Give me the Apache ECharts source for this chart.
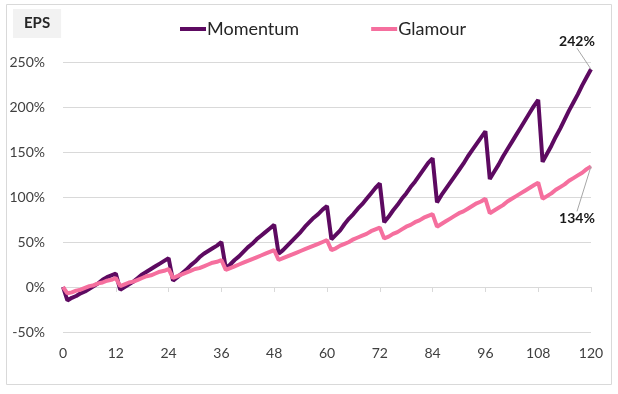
<!DOCTYPE html>
<html><head><meta charset="utf-8">
<script src="https://cdn.jsdelivr.net/npm/echarts@6/dist/echarts.min.js"></script>
<style>html,body{margin:0;padding:0;background:#fff}#c{width:618px;height:394px}</style>
</head><body><div id="c"></div>
<script>
const months = Array.from({length:121},(_,i)=>i);
const xTicks = [0,12,24,36,48,60,72,84,96,108,120];
const yTicks = [-50,0,50,100,150,200,250];
const momentum = [
 0,-15,-12,-10,-7,-5,-2,1,4,8,11,13,15,
 -3,0,3,6,10,14,17,20,23,26,29,32,
 7,11,15,19,24,28,33,37,40,43,46,50,
 21,25,30,34,39,44,48,53,57,61,65,69,
 37,41,46,51,56,61,67,72,77,81,86,90,
 53,58,63,70,76,81,87,92,98,104,110,115,
 72,78,85,91,98,104,111,117,124,131,138,143,
 94,102,109,116,123,130,137,145,152,159,166,173,
 120,128,136,145,153,161,169,177,185,193,201,208,
 139,148,157,167,176,186,196,205,214,224,233,242
];
const glamour = [
 0,-7,-6,-4,-3,-1,1,2,4,5,7,8,10,
 1,3,5,6,8,10,12,13,15,17,18,20,
 10,12,14,16,18,20,21,23,25,27,28,30,
 19,21,23,25,27,29,31,33,35,37,39,41,
 30,32,34,36,38,40,42,44,46,48,50,52,
 41,43,46,48,50,53,55,57,59,62,64,66,
 54,56,59,61,64,67,69,72,74,77,79,81,
 67,70,73,76,79,82,84,87,90,93,95,98,
 82,85,88,91,95,98,101,104,107,110,113,116,
 98,101,104,108,111,114,118,121,124,127,131,134
];
const seriesNames = ['Momentum','Glamour'];
const colors = ['#5d0a61','#f56f9e'];

function toData(arr){
  return arr.map((v,i)=>{
    if(i===arr.length-1){
      return {value:[months[i],v],label:{show:true}};
    }
    return [months[i],v];
  });
}
const font = 'Lato, "Noto Sans", sans-serif';
const chart = echarts.init(document.getElementById('c'),null,{renderer:'canvas'});
chart.setOption({
  animation:false,
  textStyle:{fontFamily:font},
  title:{text:'EPS',left:13,top:9,backgroundColor:'#f2f2f2',padding:[7,11,7,11],
    textStyle:{fontFamily:font,fontSize:15,fontWeight:'bold',color:'#262626'}},
  legend:{top:15,left:175,itemGap:72,itemWidth:26,itemHeight:4,icon:'rect',
    textStyle:{fontFamily:font,fontSize:18,color:'#262626',padding:[0,0,0,-4]},
    data:seriesNames},
  graphic:[{type:'rect',shape:{x:6.5,y:4.5,width:605,height:380},
    style:{fill:'none',stroke:'#d9d9d9',lineWidth:1},silent:true}],
  grid:{left:63,right:27,top:62,bottom:62},
  xAxis:[{
    type:'value',min:0,max:120,interval:12,
    axisLine:{show:false,onZero:false},axisTick:{show:false},splitLine:{show:false},
    axisLabel:{fontSize:14,color:'#404040',margin:14,
      customValues:xTicks}
  },{
    type:'value',min:0,max:120,interval:12,position:'bottom',
    axisLine:{show:true,onZero:true,lineStyle:{color:'#d9d9d9'}},
    axisTick:{show:true,length:5,lineStyle:{color:'#d9d9d9'}},
    axisLabel:{show:false},splitLine:{show:false}
  }],
  yAxis:{
    type:'value',min:-50,max:250,interval:50,
    axisLine:{show:false},axisTick:{show:false},
    splitLine:{lineStyle:{color:'#d9d9d9',width:1}},
    axisLabel:{fontSize:14,color:'#404040',margin:18,formatter:v=>v+'%'}
  },
  series:[{
    name:seriesNames[0],type:'line',data:toData(momentum),showSymbol:true,symbol:'circle',symbolSize:0.01,
    lineStyle:{color:colors[0],width:4},itemStyle:{color:colors[0]},
    label:{show:false,position:'top',fontSize:14,fontWeight:'bold',color:'#1a1a1a',formatter:p=>p.value[1]+'%'},
    labelLine:{show:true,lineStyle:{color:'#a6a6a6',width:1}},
    labelLayout:{dx:-14,dy:-16}
  },{
    name:seriesNames[1],type:'line',data:toData(glamour),showSymbol:true,symbol:'circle',symbolSize:0.01,
    lineStyle:{color:colors[1],width:4},itemStyle:{color:colors[1]},
    label:{show:false,position:'bottom',fontSize:14,fontWeight:'bold',color:'#1a1a1a',formatter:p=>p.value[1]+'%'},
    labelLine:{show:true,lineStyle:{color:'#a6a6a6',width:1}},
    labelLayout:{dx:-14,dy:40}
  }]
});
</script></body></html>
